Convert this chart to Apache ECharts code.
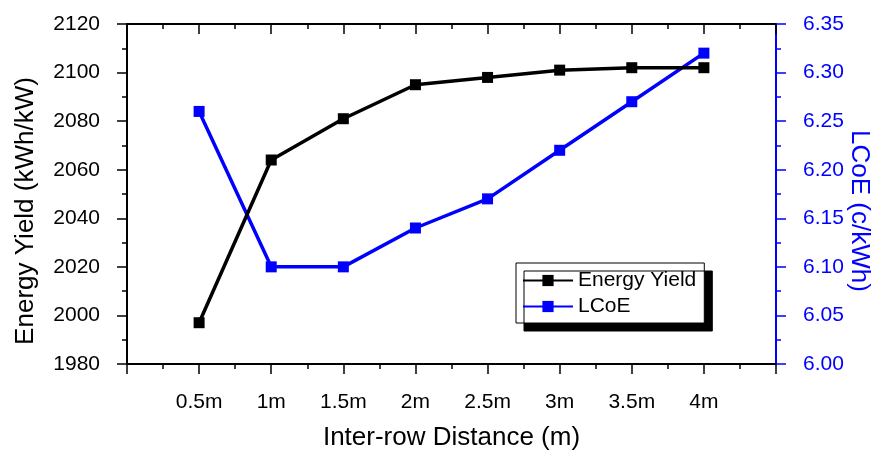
<!DOCTYPE html>
<html>
<head>
<meta charset="utf-8">
<script src="https://cdn.jsdelivr.net/npm/echarts@6/dist/echarts.min.js"></script>
<style>
    html, body { margin: 0; padding: 0; background: #fff; }
    #chart { width: 876px; height: 454px; }
</style>
</head>
<body>
<div id="chart"></div>
<script>
// data
const distances = [0.5, 1, 1.5, 2, 2.5, 3, 3.5, 4];
const distance_labels = ["0.5m", "1m", "1.5m", "2m", "2.5m", "3m", "3.5m", "4m"];
const energy_yield = [1997, 2064, 2081, 2095, 2098, 2101, 2102, 2102];
const lcoe = [6.26, 6.10, 6.10, 6.14, 6.17, 6.22, 6.27, 6.32];

const font = "Liberation Sans, Arial, sans-serif";
const blue = "#0000ff";

const chart = echarts.init(document.getElementById("chart"));

const pairs = (ys) => distances.map((d, i) => [d, ys[i]]);

const x_label = (v) => {
    const i = distances.indexOf(v);
    return i >= 0 ? distance_labels[i] : "";
};

chart.setOption({
    animation: false,
    backgroundColor: "#fff",
    textStyle: { fontFamily: font },
    grid: { left: 127, right: 100, top: 24, bottom: 90, containLabel: false, outerBoundsMode: "none" },
    legend: {
        orient: "vertical",
        left: 516,
        top: 263,
        padding: [7, 8, 6, 6],
        itemGap: 5,
        itemWidth: 50,
        itemHeight: 14,
        backgroundColor: "#fff",
        borderColor: "#000",
        borderWidth: 1,
        shadowColor: "#000",
        shadowBlur: 0,
        shadowOffsetX: 8,
        shadowOffsetY: 8,
        textStyle: { fontSize: 21, color: "#000", fontFamily: font },
        data: ["Energy Yield", "LCoE"],
    },
    xAxis: [
        {
            type: "value",
            min: 0,
            max: 4.5,
            interval: 0.5,
            name: "Inter-row Distance (m)",
            nameLocation: "middle",
            nameGap: 61,
            nameMoveOverlap: false,
            nameTextStyle: { fontSize: 26, color: "#000", fontFamily: font },
            splitLine: { show: false },
            axisLine: { onZero: false, lineStyle: { color: "#000", width: 2 } },
            axisTick: { inside: false, length: 10, lineStyle: { color: "#000", width: 1.5 } },
            minorTick: { show: true, splitNumber: 2, length: 5, lineStyle: { color: "#000", width: 1.5 } },
            axisLabel: {
                margin: 28,
                fontSize: 21,
                color: "#000",
                fontFamily: font,
                formatter: x_label,
            },
        },
        {
            type: "value",
            position: "top",
            min: 0,
            max: 4.5,
            interval: 0.5,
            splitLine: { show: false },
            axisLine: { onZero: false, lineStyle: { color: "#000", width: 2 } },
            axisTick: { inside: true, length: 10, lineStyle: { color: "#000", width: 1.5 } },
            minorTick: { show: true, splitNumber: 2, length: 5, lineStyle: { color: "#000", width: 1.5 } },
            axisLabel: { show: false },
        },
    ],
    yAxis: [
        {
            type: "value",
            min: 1980,
            max: 2120,
            interval: 20,
            name: "Energy Yield (kWh/kW)",
            nameLocation: "middle",
            nameGap: 88,
            nameMoveOverlap: false,
            nameTextStyle: { fontSize: 26, color: "#000", fontFamily: font, padding: [0, 34, 0, 0] },
            splitLine: { show: false },
            axisLine: { onZero: false, lineStyle: { color: "#000", width: 2 } },
            axisTick: { length: 10, lineStyle: { color: "#000", width: 1.5 } },
            minorTick: { show: true, splitNumber: 2, length: 5, lineStyle: { color: "#000", width: 1.5 } },
            axisLabel: {
                margin: 27,
                fontSize: 21,
                color: "#000",
                fontFamily: font,
                formatter: (v) => String(v),
            },
        },
        {
            type: "value",
            position: "right",
            min: 6.0,
            max: 6.35,
            interval: 0.05,
            name: "LCoE (c/kWh)",
            nameLocation: "middle",
            nameGap: 70,
            nameRotate: -90,
            nameMoveOverlap: false,
            nameTextStyle: { fontSize: 26, color: blue, fontFamily: font, padding: [0, 0, 0, 34] },
            splitLine: { show: false },
            axisLine: { onZero: false, lineStyle: { color: blue, width: 2 } },
            axisTick: { length: 10, lineStyle: { color: blue, width: 1.5 } },
            minorTick: { show: true, splitNumber: 2, length: 5, lineStyle: { color: blue, width: 1.5 } },
            axisLabel: {
                margin: 27,
                fontSize: 21,
                color: blue,
                fontFamily: font,
                formatter: (v) => v.toFixed(2),
            },
        },
    ],
    series: [
        {
            name: "Energy Yield",
            type: "line",
            xAxisIndex: 0,
            yAxisIndex: 0,
            data: pairs(energy_yield),
            symbol: "rect",
            symbolSize: 11,
            lineStyle: { color: "#000", width: 3.5 },
            itemStyle: { color: "#000" },
            z: 3,
        },
        {
            name: "LCoE",
            type: "line",
            xAxisIndex: 0,
            yAxisIndex: 1,
            data: pairs(lcoe),
            symbol: "rect",
            symbolSize: 11,
            lineStyle: { color: blue, width: 3.5 },
            itemStyle: { color: blue },
            z: 2,
        },
    ],
});
</script>
</body>
</html>
